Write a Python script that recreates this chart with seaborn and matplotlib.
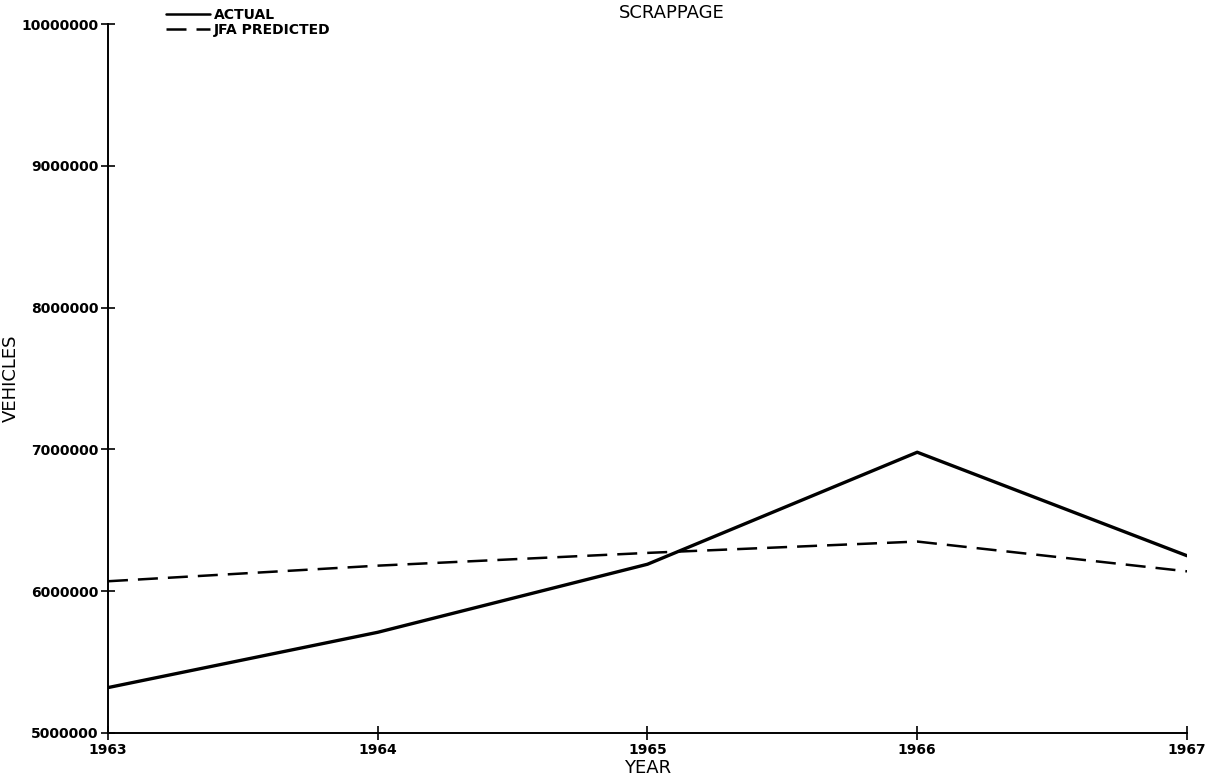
import pandas as pd
import matplotlib.pyplot as plt
import seaborn as sns

# ── Data ──────────────────────────────────────────────────────────────────────
years = [1963, 1964, 1965, 1966, 1967]
actual = [5320000, 5710000, 6190000, 6980000, 6250000]
jfa_predicted = [6070000, 6180000, 6270000, 6350000, 6140000]
y_ticks = [5000000, 6000000, 7000000, 8000000, 9000000, 10000000]

df = pd.DataFrame({
    "YEAR": years * 2,
    "VEHICLES": actual + jfa_predicted,
    "series": ["ACTUAL"] * len(years) + ["JFA PREDICTED"] * len(years),
})

# ── Plot ──────────────────────────────────────────────────────────────────────
sns.set_style("ticks")
plt.rcParams["font.family"] = ["DejaVu Sans"]
plt.rcParams.update({
    "text.color": "black",
    "axes.labelcolor": "black",
    "xtick.color": "black",
    "ytick.color": "black",
})

fig = plt.figure(figsize=(12.09, 7.83), dpi=100)
ax = fig.add_axes([0.0893, 0.0639, 0.8925, 0.9054])

sns.lineplot(
    data=df, x="YEAR", y="VEHICLES",
    hue="series", style="series",
    palette=["black", "black"],
    dashes={"ACTUAL": "", "JFA PREDICTED": (8, 4)},
    linewidth=1.8,
    ax=ax,
)
# actual line a bit heavier, like the plotter pen
ax.lines[0].set_linewidth(2.4)

ax.set_xlim(years[0], years[-1])
ax.set_ylim(y_ticks[0], y_ticks[-1])
ax.set_xticks(years)
ax.set_xticklabels([str(y) for y in years], fontsize=10, fontweight="bold")
ax.set_yticks(y_ticks)
ax.set_yticklabels([str(v) for v in y_ticks], fontsize=10, fontweight="bold")
ax.tick_params(direction="inout", length=10, width=1.2, pad=2)

for side in ["top", "right"]:
    ax.spines[side].set_visible(False)
for side in ["left", "bottom"]:
    ax.spines[side].set_linewidth(1.4)
    ax.spines[side].set_color("black")

ax.set_xlabel("YEAR", fontsize=13, labelpad=2)
ax.set_ylabel("VEHICLES", fontsize=13)
# put the y label where the reference has it (~22 px from the left edge)
ax.yaxis.set_label_coords(-0.082, 0.5)

fig.text(0.556, 0.984, "SCRAPPAGE", ha="center", va="center", fontsize=13)

handles, labels = ax.get_legend_handles_labels()
leg = ax.legend(
    handles, labels,
    loc="upper left", bbox_to_anchor=(0.13, 1.0),
    bbox_transform=fig.transFigure,
    frameon=False, handlelength=3.2, handletextpad=0.3,
    labelspacing=0.05, borderaxespad=0.2,
    prop={"size": 10, "weight": "bold"},
)

plt.savefig("out.png", dpi=100)
